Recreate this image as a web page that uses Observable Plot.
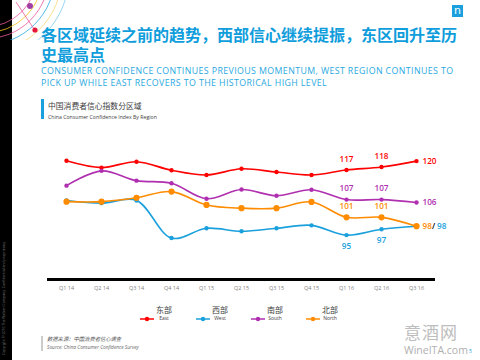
<!DOCTYPE html>
<html>
<head>
<meta charset="utf-8">
<script src="https://cdn.jsdelivr.net/npm/d3@7"></script>
<script src="https://cdn.jsdelivr.net/npm/@observablehq/plot@0.6"></script>
<style>
  html, body { margin:0; padding:0; background:#fff; }
  body { width:480px; height:360px; position:relative; overflow:hidden; font-family:"Open Sans","Noto Sans CJK SC",sans-serif; }
  .abs { position:absolute; white-space:nowrap; }
  #title { left:41px; top:24px; font-family:"Noto Sans CJK SC",sans-serif; font-weight:700; font-size:16px; line-height:20px; color:#0f9ddc; white-space:normal; width:420px; letter-spacing:0px; }
  #sub { left:41px; top:65px; font-size:8.8px; line-height:12px; color:#2aa9e0; width:420px; white-space:normal; letter-spacing:0.4px; }
  #ctitle { left:48px; top:101px; font-family:"Noto Sans CJK SC",sans-serif; font-size:7.8px; color:#404040; line-height:10px; }
  #csub { left:48px; top:113px; font-size:5.2px; color:#404040; }
  #chart { position:absolute; left:0; top:124px; }
  .leg { position:absolute; top:305px; text-align:center; }
  .leg .zh { font-family:"Noto Sans CJK SC",sans-serif; font-size:8px; color:#404040; line-height:10px; }
  .leg .en { font-size:5px; color:#404040; line-height:7px; }
</style>
</head>
<body>
<!-- decoration -->
<div class="abs" style="left:0;top:0;width:12px;height:360px;background:#000;"></div>
<svg class="abs" style="left:0;top:0" width="90" height="40">
  <g fill="none" stroke-width="0.8">
    <circle cx="-15" cy="-25" r="52" stroke="#e8559a"/>
    <circle cx="-15" cy="-25" r="58" stroke="#f2c01c"/>
    <circle cx="-15" cy="-25" r="64" stroke="#e8559a"/>
    <circle cx="-15" cy="-25" r="70" stroke="#29a8e0"/>
    <circle cx="-15" cy="-25" r="77" stroke="#f2c01c" opacity="0.6"/>
    <circle cx="-15" cy="-25" r="84" stroke="#29a8e0" opacity="0.6"/>
    <line x1="16" y1="2" x2="34" y2="29" stroke="#e8559a"/>
  </g>
  <circle cx="30" cy="6" r="3" fill="#a23fa6"/>
  <circle cx="35" cy="30" r="2.6" fill="#e8173a"/>
</svg>
<div class="abs" style="left:1px;top:355px;transform:rotate(-90deg);transform-origin:0 0;font-size:3.5px;color:#777;">Copyright © 2016 The Nielsen Company. Confidential and proprietary.</div>
<div class="abs" style="left:452px;top:5px;width:11px;height:12px;background:#1aa0dc;color:#fff;font-size:11px;line-height:12px;text-align:center;font-family:'DejaVu Sans';">n</div>

<div class="abs" id="title">各区域延续之前的趋势，西部信心继续提振，东区回升至历史最高点</div>
<div class="abs" id="sub">CONSUMER CONFIDENCE CONTINUES PREVIOUS MOMENTUM, WEST REGION CONTINUES TO PICK UP WHILE EAST RECOVERS TO THE HISTORICAL HIGH LEVEL</div>

<div class="abs" style="left:41px;top:99px;width:3px;height:20px;background:#1aa0dc;"></div>
<div class="abs" id="ctitle">中国消费者信心指数分区域</div>
<div class="abs" id="csub">China Consumer Confidence Index By Region</div>

<div id="chart"></div>
<div id="legend"></div>

<div class="abs" style="left:41px;top:336px;width:2px;height:15px;background:#ccc;"></div>
<div class="abs" style="left:47px;top:336px;font-family:'Noto Sans CJK SC';font-style:italic;font-size:5.3px;color:#555;line-height:7px;">数据来源：中国消费者信心调查</div>
<div class="abs" style="left:47px;top:344px;font-style:italic;font-size:4.8px;color:#666;line-height:7px;">Source: China Consumer Confidence Survey</div>

<div class="abs" style="left:404px;top:322px;font-family:'Noto Sans CJK SC';font-size:17px;color:#bdbdbd;line-height:19px;letter-spacing:1px;">意酒网</div>
<div class="abs" style="left:404px;top:344px;font-size:10.5px;color:#b0b0b0;line-height:12px;">WineITA.com</div>
<div class="abs" style="left:469px;top:348px;font-size:5px;color:#1aa0dc;line-height:6px;">5</div>

<script>
const quarters = ["Q1 14","Q2 14","Q3 14","Q4 14","Q1 15","Q2 15","Q3 15","Q4 15","Q1 16","Q2 16","Q3 16"];
const seriesKeys = ["East","West","South","North"];
const seriesZh = ["东部","西部","南部","北部"];
const seriesColors = ["#ff0000","#1aa0dc","#b02fb0","#ff8c00"];
const east  = [120.1, 117.8, 119.8, 116.9, 115.3, 117.4, 116.3, 115.3, 117, 118, 120];
const west  = [106.7, 105.8, 106.7,  94.0,  97.3,  96.3,  97.3,  98.3,  95,  97,  98];
const south = [111.7, 116.7, 113.4, 112.5, 107.3, 110.4, 108.3, 110.3, 107, 107, 106];
const north = [106.3, 106.3, 107.6, 109.7, 105.2, 104.1, 104.1, 106.2, 101, 101,  98];
// labelled points: [series, quarter index, position]
const labelsSpec = [
  ["East",8,"above"],["East",9,"above"],["East",10,"right"],
  ["South",8,"above"],["South",9,"above"],["South",10,"right"],
  ["North",8,"above"],["North",9,"above"],["North",10,"right"],
  ["West",8,"below"],["West",9,"below"],["West",10,"right2"]
];

const valuesBy = {East:east, West:west, South:south, North:north};
const data = [];
for (const s of seriesKeys) valuesBy[s].forEach((v,i)=>data.push({s, q:quarters[i], v}));
const labels = labelsSpec.map(([s,i,pos])=>({s, q:quarters[i], v:valuesBy[s][i], pos, t:String(Math.round(valuesBy[s][i]))}));

const color = {domain:seriesKeys, range:seriesColors};
const lblFont = {fontSize:8.2, fontWeight:600, fontFamily:"Open Sans"};
const slashRow = labels.filter(d=>d.pos==="right2");

const chart = Plot.plot({
  width:480, height:175,
  marginLeft:47, marginRight:45, marginTop:7, marginBottom:20,
  x:{type:"point", domain:quarters, padding:0.5, label:null, tickSize:0, tickPadding:7},
  y:{domain:[80,130], axis:null},
  color,
  style:{fontFamily:"Open Sans", fontSize:"5.5px", color:"#7f7f7f", background:"transparent", overflow:"visible"},
  marks:[
    Plot.ruleY([80], {stroke:"#000", strokeWidth:3}),
    Plot.line(data, {x:"q", y:"v", z:"s", stroke:"s", curve:"catmull-rom", strokeWidth:1.6}),
    Plot.dot(data.filter(d=>d.s!=="North"), {x:"q", y:"v", fill:"s", r:2.2}),
    Plot.dot(data.filter(d=>d.s==="North"), {x:"q", y:"v", fill:"s", r:3.1}),
    Plot.text(labels.filter(d=>d.pos==="above"), {x:"q", y:"v", text:"t", fill:"s", dy:-11, ...lblFont}),
    Plot.text(labels.filter(d=>d.pos==="below"), {x:"q", y:"v", text:"t", fill:"s", dy:11, ...lblFont}),
    Plot.text(labels.filter(d=>d.pos==="right"), {x:"q", y:"v", text:"t", fill:"s", dx:6, textAnchor:"start", ...lblFont}),
    Plot.text(slashRow, {x:"q", y:"v", text:()=>"/", fill:"#000", dx:15.5, textAnchor:"start", ...lblFont}),
    Plot.text(slashRow, {x:"q", y:"v", text:"t", fill:"s", dx:20.5, textAnchor:"start", ...lblFont})
  ]
});
document.getElementById("chart").appendChild(chart);

// legend
const legendX = [140, 196, 251, 306];
const lg = document.getElementById("legend");
seriesKeys.forEach((s,i)=>{
  const sw = document.createElement("div");
  sw.className = "abs";
  sw.style.left = legendX[i] + "px";
  sw.style.top = "306px";
  sw.innerHTML = `<svg width="14" height="8"><line x1="0" x2="14" y1="4" y2="4" stroke="${seriesColors[i]}" stroke-width="1.5"/><circle cx="7" cy="4" r="2.2" fill="${seriesColors[i]}"/></svg>`;
  lg.appendChild(sw);
  const t = document.createElement("div");
  t.className = "leg";
  t.style.left = (legendX[i] + 14) + "px";
  t.style.width = "20px";
  t.innerHTML = `<div class="zh">${seriesZh[i]}</div><div class="en">${s}</div>`;
  lg.appendChild(t);
});
</script>
</body>
</html>
